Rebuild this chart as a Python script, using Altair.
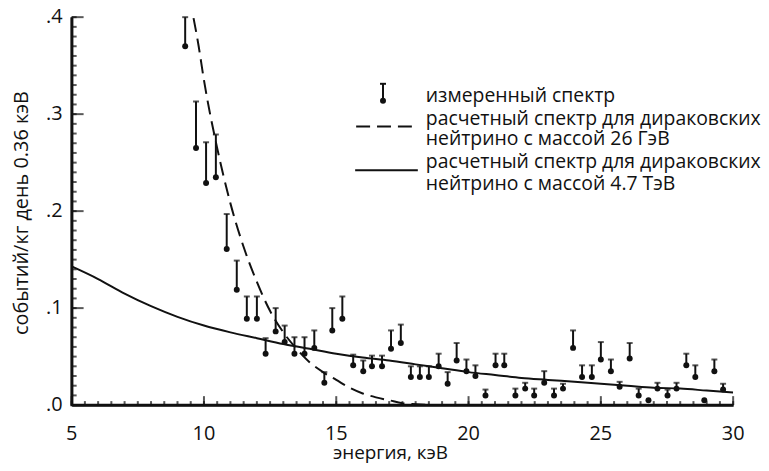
import altair as alt
import pandas as pd

# measured spectrum: bin energy (keV), counts, upper end of error bar
energy = [9.29, 9.70, 10.08, 10.45, 10.86, 11.24, 11.62, 12.00, 12.33, 12.71,
          13.05, 13.42, 13.80, 14.17, 14.55, 14.85, 15.23, 15.64, 16.02, 16.35,
          16.73, 17.07, 17.44, 17.82, 18.16, 18.50, 18.87, 19.21, 19.55, 19.92,
          20.26, 20.64, 21.02, 21.35, 21.77, 22.14, 22.48, 22.86, 23.23, 23.57,
          23.95, 24.29, 24.66, 25.00, 25.38, 25.71, 26.09, 26.43, 26.80, 27.14,
          27.52, 27.86, 28.23, 28.57, 28.91, 29.29, 29.62]
rate = [0.370, 0.265, 0.229, 0.235, 0.161, 0.119, 0.089, 0.089, 0.053, 0.076,
        0.065, 0.053, 0.053, 0.059, 0.023, 0.077, 0.089, 0.041, 0.035, 0.040,
        0.040, 0.058, 0.064, 0.029, 0.029, 0.029, 0.040, 0.022, 0.046, 0.035,
        0.030, 0.010, 0.041, 0.041, 0.010, 0.017, 0.010, 0.023, 0.010, 0.017,
        0.059, 0.029, 0.029, 0.047, 0.035, 0.019, 0.048, 0.010, 0.005, 0.017,
        0.010, 0.017, 0.041, 0.029, 0.005, 0.035, 0.016]
upper = [0.400, 0.313, 0.271, 0.279, 0.197, 0.149, 0.112, 0.112, 0.069, 0.100,
         0.082, 0.070, 0.070, 0.077, 0.034, 0.100, 0.112, 0.052, 0.046, 0.051,
         0.051, 0.077, 0.083, 0.040, 0.040, 0.040, 0.053, 0.034, 0.064, 0.047,
         0.041, 0.016, 0.053, 0.053, 0.017, 0.023, 0.017, 0.035, 0.017, 0.022,
         0.077, 0.041, 0.041, 0.065, 0.047, 0.024, 0.064, 0.017, 0.005, 0.023,
         0.016, 0.023, 0.053, 0.041, 0.005, 0.047, 0.022]

# calculated spectrum, Dirac neutrino 26 GeV (dashed)
gev_energy = [9.45, 9.8, 10.0, 10.5, 11.0, 11.5, 12.0, 12.5, 13.0, 13.5, 14.0,
              14.5, 15.0, 15.5, 16.0, 16.5, 17.0, 17.5, 18.0, 19.0, 20.0, 21.0]
gev_rate = [0.42, 0.37, 0.335, 0.265, 0.208, 0.163, 0.127, 0.097, 0.075, 0.058,
            0.044, 0.034, 0.026, 0.018, 0.012, 0.008, 0.005, 0.002, 0.001, 0.0,
            0.0, 0.0]

# calculated spectrum, Dirac neutrino 4.7 TeV (solid)
tev_energy = [5, 6, 7, 8, 9, 10, 11, 12, 13, 14, 15, 16, 17, 18, 19, 20, 21, 22,
              23, 24, 25, 26, 27, 28, 29, 30]
tev_rate = [0.143, 0.130, 0.115, 0.102, 0.091, 0.082, 0.075, 0.069, 0.063, 0.058,
            0.053, 0.049, 0.046, 0.042, 0.038, 0.034, 0.031, 0.028, 0.026, 0.024,
            0.022, 0.020, 0.018, 0.017, 0.015, 0.013]

x_labels = [5, 10, 15, 20, 25, 30]
y_labels = [0.0, 0.1, 0.2, 0.3, 0.4]
y_label_text = [".0", ".1", ".2", ".3", ".4"]
x_minor = [5 + 0.5 * i for i in range(51)]
y_minor = [round(0.01 * i, 2) for i in range(41)]

x_title = "энергия, кэВ"
y_title = "событий/кг день 0.36 кэВ"
legend_labels = ["измеренный спектр",
                 "расчетный спектр для дираковских",
                 "нейтрино с массой 26 ГэВ",
                 "расчетный спектр для дираковских",
                 "нейтрино с массой 4.7 ТэВ"]

FONT = "Open Sans"
INK = "#111111"
W, H = 665, 390

pts = pd.DataFrame({"energy": energy, "rate": rate, "upper": upper})
gev = pd.DataFrame({"energy": gev_energy, "rate": gev_rate})
tev = pd.DataFrame({"energy": tev_energy, "rate": tev_rate})
xminor_df = pd.DataFrame({"v": x_minor})
xmajor_df = pd.DataFrame({"v": x_labels, "t": [str(v) for v in x_labels]})
yminor_df = pd.DataFrame({"v": y_minor})
ymajor_df = pd.DataFrame({"v": y_labels, "t": y_label_text})
one = pd.DataFrame({"k": [0]})

xs = alt.Scale(domain=[5, 30], nice=False, zero=False)
ys = alt.Scale(domain=[0, 0.4], nice=False)

# axes only draw the axis lines; labels and ticks are drawn as layers below
x_axis = alt.Axis(domain=True, domainColor=INK, domainWidth=2.5, ticks=False,
                  labels=False, title=None, grid=False)
y_axis = alt.Axis(domain=True, domainColor=INK, domainWidth=2.5, ticks=False,
                  labels=False, title=None, grid=False)


def X(field):
    return alt.X(field, scale=xs, axis=x_axis)


def Y(field):
    return alt.Y(field, scale=ys, axis=y_axis)


bars = alt.Chart(pts).mark_rule(strokeWidth=2, color=INK).encode(
    x=X("energy:Q"), y=Y("rate:Q"), y2="upper:Q")

caps = alt.Chart(pts).transform_filter("datum.upper > datum.rate").mark_tick(
    orient="horizontal", size=6, thickness=2, color=INK).encode(
    x=X("energy:Q"), y=Y("upper:Q"))

dots = alt.Chart(pts).mark_circle(size=36, color=INK, opacity=1).encode(
    x=X("energy:Q"), y=Y("rate:Q"))

dashed = alt.Chart(gev).mark_line(strokeDash=[14, 7], strokeWidth=2, color=INK,
                                  clip=True, interpolate="monotone").encode(
    x=X("energy:Q"), y=Y("rate:Q"))

solid = alt.Chart(tev).mark_line(strokeWidth=2, color=INK, clip=True,
                                 interpolate="monotone").encode(
    x=X("energy:Q"), y=Y("rate:Q"))

# inward ticks
x_minor_ticks = alt.Chart(xminor_df).mark_tick(orient="vertical", size=4, thickness=2,
                                                color=INK).encode(
    x=X("v:Q"), y=alt.value(H - 2))
x_major_ticks = alt.Chart(xmajor_df).mark_tick(orient="vertical", size=9, thickness=2,
                                                color=INK).encode(
    x=X("v:Q"), y=alt.value(H - 4.5))
y_minor_ticks = alt.Chart(yminor_df).mark_tick(orient="horizontal", size=5, thickness=2,
                                                color=INK).encode(
    y=Y("v:Q"), x=alt.value(2.5))
y_major_ticks = alt.Chart(ymajor_df).mark_tick(orient="horizontal", size=12, thickness=2,
                                                color=INK).encode(
    y=Y("v:Q"), x=alt.value(6))

# tick labels and titles
x_tick_text = alt.Chart(xmajor_df).mark_text(font=FONT, fontSize=20, color=INK,
                                             align="center", baseline="middle").encode(
    x=X("v:Q"), y=alt.value(H + 29), text="t:N")
y_tick_text = alt.Chart(ymajor_df).mark_text(font=FONT, fontSize=20, color=INK,
                                             align="right", baseline="middle").encode(
    y=Y("v:Q"), x=alt.value(-9), text="t:N")
x_title_text = alt.Chart(one).mark_text(font=FONT, fontSize=19, color=INK,
                                        align="center", baseline="middle").encode(
    x=alt.value(W / 2 - 12), y=alt.value(H + 48), text=alt.value(x_title))
y_title_text = alt.Chart(one).mark_text(font=FONT, fontSize=20, color=INK, angle=270,
                                        align="center", baseline="middle").encode(
    x=alt.value(-50), y=alt.value(H / 2 + 2), text=alt.value(y_title))

# legend
LX = 356
leg_y = [79, 102, 123, 146, 168]
leg_text = [alt.Chart(one).mark_text(align="left", baseline="middle", font=FONT,
                                     fontSize=19.5, color=INK).encode(
    x=alt.value(LX), y=alt.value(yy), text=alt.value(s))
    for s, yy in zip(legend_labels, leg_y)]

leg_bar = alt.Chart(one).mark_rule(strokeWidth=2, color=INK).encode(
    x=alt.value(313), y=alt.value(67), y2=alt.value(84))
leg_cap = alt.Chart(one).mark_rule(strokeWidth=2, color=INK).encode(
    x=alt.value(310), x2=alt.value(316), y=alt.value(67))
leg_dot = alt.Chart(one).mark_circle(size=36, color=INK, opacity=1).encode(
    x=alt.value(313), y=alt.value(84))
leg_dash = alt.Chart(one).mark_rule(strokeWidth=2, color=INK, strokeDash=[14, 7]).encode(
    x=alt.value(286), x2=alt.value(342), y=alt.value(110))
leg_solid = alt.Chart(one).mark_rule(strokeWidth=2, color=INK).encode(
    x=alt.value(285), x2=alt.value(348), y=alt.value(154))

chart = alt.layer(bars, caps, dots, dashed, solid,
                  x_minor_ticks, x_major_ticks, y_minor_ticks, y_major_ticks,
                  x_tick_text, y_tick_text, x_title_text, y_title_text,
                  leg_bar, leg_cap, leg_dot, leg_dash, leg_solid, *leg_text).properties(
    width=W, height=H,
    padding={"left": 64, "top": 8, "right": 28, "bottom": 57},
    autosize=alt.AutoSizeParams(type="none"),
    background="white").configure_view(
    stroke=INK, strokeWidth=2.5, strokeDash=[0, W + H, W + H, 0])

chart.save("out.html", embed_options={"renderer": "svg", "actions": False})
